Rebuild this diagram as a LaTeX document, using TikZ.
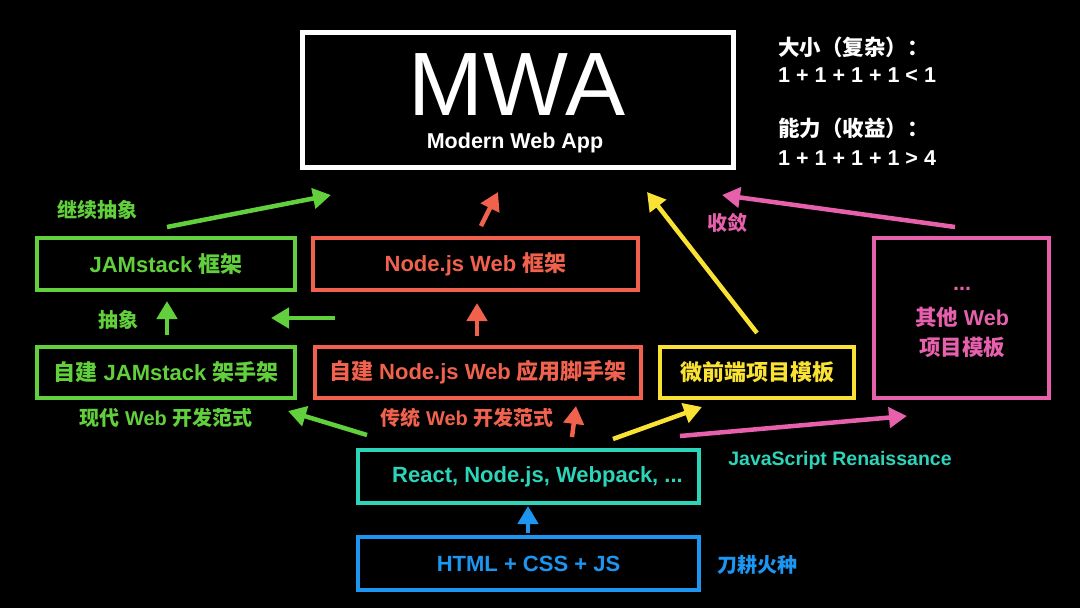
\documentclass[tikz,border=0pt]{standalone}
\usepackage{fontspec}
\setmainfont{Liberation Sans}
\newfontfamily\cjk{Noto Sans CJK SC}
\usetikzlibrary{arrows.meta}
\newcommand{\zh}[1]{{\cjk #1}}
\definecolor{cgreen}{RGB}{98,208,60}
\definecolor{cred}{RGB}{240,98,78}
\definecolor{cyellow}{RGB}{250,226,52}
\definecolor{cpink}{RGB}{230,96,172}
\definecolor{cteal}{RGB}{44,212,186}
\definecolor{cblue}{RGB}{28,150,240}
\begin{document}
\begin{tikzpicture}[x=1pt,y=-1pt,
  box/.style={draw, line width=4pt, minimum height=52pt, inner sep=0pt, font=\fontsize{22}{26}\selectfont\bfseries, align=center},
  lbl/.style={inner sep=0pt, font=\fontsize{20}{24}\selectfont\bfseries},
  rtxt/.style={inner sep=0pt, anchor=west, text=white, font=\fontsize{21.5}{25}\selectfont\bfseries},
  arr/.style={line width=4.5pt, -{Triangle[length=18pt,width=20pt]}}
]
\fill[black] (0,0) rectangle (1080,608);
\useasboundingbox (0,0) rectangle (1080,608);

% MWA box
\node[draw=white, line width=5pt, minimum width=431pt, minimum height=135pt, inner sep=0pt] (mwa) at (518,100) {};
\node[text=white, inner sep=0pt, anchor=base, font=\fontsize{90}{90}\selectfont] (mwat) at (517,115) {MWA};
\node[text=white, inner sep=0pt, anchor=base, font=\fontsize{21.5}{25}\selectfont\bfseries] (mwas) at (515,148) {Modern Web App};

% right text
\node[rtxt] (t1) at (778,47) {\zh{大小（复杂）：}};
\node[rtxt] (t2) at (778,75) {1 + 1 + 1 + 1 < 1};
\node[rtxt] (t3) at (778,128) {\zh{能力（收益）：}};
\node[rtxt] (t4) at (778,158) {1 + 1 + 1 + 1 > 4};

% boxes
\node[box, draw=cgreen, text=cgreen, minimum width=258pt] (jamf) at (166,264) {JAMstack \zh{框架}};
\node[box, draw=cred, text=cred, minimum width=325pt] (nodef) at (475.5,264) {Node.js Web \zh{框架}};
\node[box, draw=cgreen, text=cgreen, minimum width=258pt, minimum height=51pt] (jams) at (166,372.5) {\zh{自建} JAMstack \zh{架手架}};
\node[box, draw=cred, text=cred, minimum width=326pt, minimum height=51pt] (nodes) at (478,372.5) {\zh{自建} Node.js Web \zh{应用脚手架}};
\node[box, draw=cyellow, text=cyellow, minimum width=194pt, minimum height=51pt] (micro) at (757,372.5) {\zh{微前端项目模板}};
\node[box, draw=cpink, minimum width=175pt, minimum height=160pt] (other) at (961.5,318) {};
\node[text=cpink, inner sep=0pt, font=\fontsize{21.5}{25}\selectfont\bfseries] (oth1) at (962,289) {...};
\node[text=cpink, inner sep=0pt, font=\fontsize{21.5}{25}\selectfont\bfseries] (oth2) at (962,317) {\zh{其他} Web};
\node[text=cpink, inner sep=0pt, font=\fontsize{21.5}{25}\selectfont\bfseries] (oth3) at (962,347) {\zh{项目模板}};
\node[box, draw=cteal, text=cteal, minimum width=341pt, minimum height=53pt] (react) at (528.5,476.5) {\hspace*{18pt}React, Node.js, Webpack, ...};
\node[box, draw=cblue, text=cblue, minimum width=341pt, minimum height=53pt] (html) at (528.5,563.5) {HTML + CSS + JS};

% labels
\node[lbl, text=cgreen] (l1) at (97,210) {\zh{继续抽象}};
\node[lbl, text=cgreen] (l2) at (118,320) {\zh{抽象}};
\node[lbl, text=cgreen] (l3) at (166,418) {\zh{现代} Web \zh{开发范式}};
\node[lbl, text=cred] (l4) at (467,418) {\zh{传统} Web \zh{开发范式}};
\node[lbl, text=cpink] (l5) at (727,223) {\zh{收敛}};
\node[lbl, text=cteal, font=\fontsize{19.5}{23}\selectfont\bfseries] (l6) at (840,460) {JavaScript Renaissance};
\node[lbl, text=cblue] (l7) at (757,565) {\zh{刀耕火种}};

% arrow end coordinates
\coordinate (a1s) at (167,227); \coordinate (a1e) at (331,195);
\coordinate (a2s) at (481,226); \coordinate (a2e) at (498,192);
\coordinate (a3s) at (757,333); \coordinate (a3e) at (647,192);
\coordinate (a4s) at (955,227); \coordinate (a4e) at (722,195);
\coordinate (a5s) at (167,335); \coordinate (a5e) at (167,301);
\coordinate (a6s) at (335,318); \coordinate (a6e) at (271,318);
\coordinate (a7s) at (477,336); \coordinate (a7e) at (477,303);
\coordinate (a8s) at (367,435); \coordinate (a8e) at (288,411);
\coordinate (a9s) at (572,437); \coordinate (a9e) at (576,406);
\coordinate (a10s) at (613,439); \coordinate (a10e) at (702,407);
\coordinate (a11s) at (680,436); \coordinate (a11e) at (907,416);
\coordinate (a12s) at (528,533); \coordinate (a12e) at (528,506);

\draw[arr, cgreen] (a1s) -- (a1e);
\draw[arr, cred] (a2s) -- (a2e);
\draw[arr, cyellow] (a3s) -- (a3e);
\draw[arr, cpink] (a4s) -- (a4e);
\draw[arr, cgreen] (a5s) -- (a5e);
\draw[arr, cgreen] (a6s) -- (a6e);
\draw[arr, cred] (a7s) -- (a7e);
\draw[arr, cgreen] (a8s) -- (a8e);
\draw[arr, cred] (a9s) -- (a9e);
\draw[arr, cyellow] (a10s) -- (a10e);
\draw[arr, cpink] (a11s) -- (a11e);
\draw[arr, cblue] (a12s) -- (a12e);
\end{tikzpicture}
\end{document}
